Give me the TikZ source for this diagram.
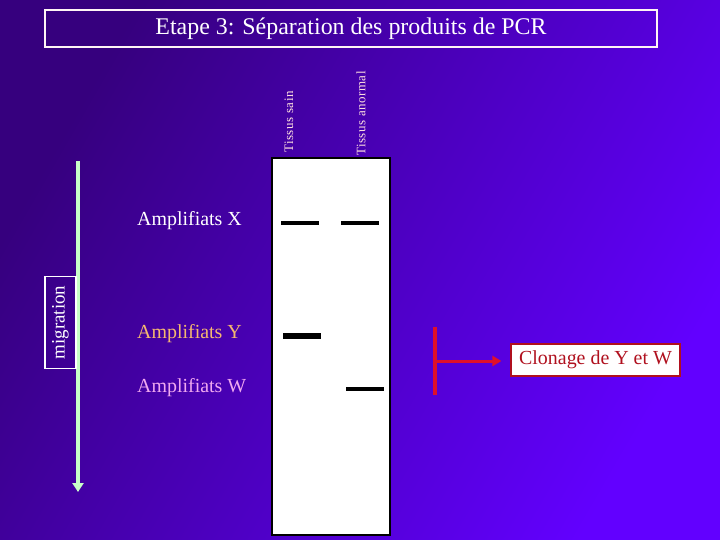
\documentclass[tikz,border=0pt]{standalone}
\usepackage{fontspec}
\setmainfont{Liberation Serif}
\usetikzlibrary{arrows.meta}
\definecolor{bgdark}{HTML}{36007E}
\definecolor{bglight}{HTML}{6200FF}
\definecolor{migr}{HTML}{C8FFC8}
\definecolor{lblY}{HTML}{F5B870}
\definecolor{lblW}{HTML}{F0A8F0}
\definecolor{tissu}{HTML}{FFE0E0}
\definecolor{redline}{HTML}{E0102A}
\definecolor{clon}{HTML}{B0101E}
\begin{document}
\begin{tikzpicture}[x=1bp,y=-1bp,
  lbl/.style={font=\fontsize{20}{24}\selectfont,anchor=west,inner sep=0pt},
  tis/.style={font=\fontsize{13}{15}\selectfont\addfontfeature{LetterSpace=4},text=tissu,rotate=90,anchor=west,inner sep=0pt},
  band/.style={line width=3.2bp,black},
  bandthick/.style={line width=6bp,black}]
\shade[left color=bgdark,right color=bglight,shading angle=60] (0,0) rectangle (720,540);
\useasboundingbox (0,0) rectangle (720,540);
% title
\node[draw=white!85!pink,line width=1.2bp,minimum width=612bp,minimum height=37bp,text=white,
  font=\fontsize{24}{28}\selectfont] (title) at (351,28.5) {Etape 3: Séparation des produits de PCR};
% gel
\node[draw=black,fill=white,line width=1.2bp,minimum width=118bp,minimum height=377bp,inner sep=0pt] (gel) at (331,346.5) {};
% lane labels
\node[tis] (sain) at (289,153) {Tissus sain};
\node[tis] (anormal) at (361,156) {Tissus anormal};
% bands
\coordinate (x1a) at (281,223); \coordinate (x1b) at (319,223);
\coordinate (x2a) at (341,223); \coordinate (x2b) at (379,223);
\coordinate (y1a) at (283,336); \coordinate (y1b) at (321,336);
\coordinate (w2a) at (346,389); \coordinate (w2b) at (384,389);
\draw[band] (x1a) -- (x1b);
\draw[band] (x2a) -- (x2b);
\draw[bandthick] (y1a) -- (y1b);
\draw[band] (w2a) -- (w2b);
% labels
\node[lbl,text=white] (lx) at (137,221) {Amplifiats X};
\node[lbl,text=lblY] (ly) at (137,334) {Amplifiats Y};
\node[lbl,text=lblW] (lw) at (137,388) {Amplifiats W};
% migration
\coordinate (ms) at (78,161);
\coordinate (me) at (78,492);
\draw[migr,line width=4bp,-{Triangle[width=11bp,length=9bp]}] (ms) -- (me);
\node[draw=white,line width=1.2bp,minimum width=92bp,minimum height=31bp,rotate=90,text=white,
  font=\fontsize{19}{22}\selectfont,inner sep=0pt] (mig) at (60.5,322.5) {migration};
% red T
\coordinate (ta) at (435,327);
\coordinate (tb) at (435,395);
\coordinate (tm) at (435,361);
\draw[redline,line width=4.5bp] (ta) -- (tb);
\node[draw=clon,fill=white,line width=1.2bp,minimum width=169bp,minimum height=32bp,inner sep=0pt,
  text=clon,font=\fontsize{20}{24}\selectfont] (clonage) at (595.5,360) {Clonage de Y et W};
\draw[redline,line width=3bp,-{Triangle[width=10bp,length=9bp]}] (tm) -- ([xshift=-9bp]clonage.west|-tm);
\end{tikzpicture}
\end{document}
